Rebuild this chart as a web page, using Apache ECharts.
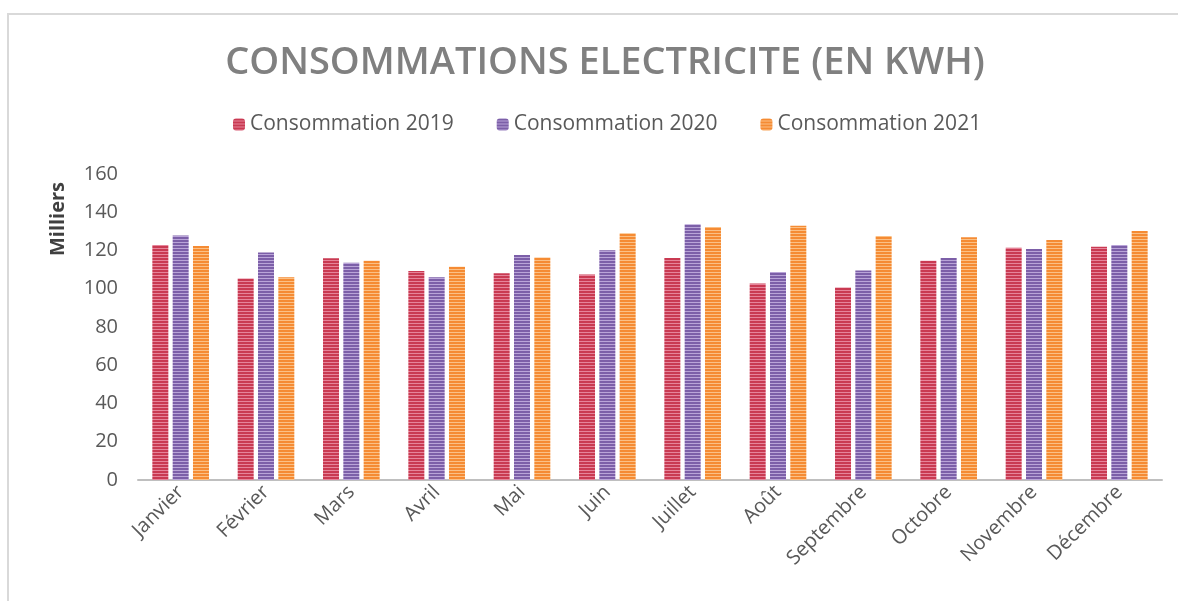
<!DOCTYPE html>
<html>
<head>
<meta charset="utf-8">
<script src="https://cdn.jsdelivr.net/npm/echarts@6/dist/echarts.min.js"></script>
<style>
    body { margin: 0; background: #fff; }
    #chart { position: absolute; left: 0; top: 0; width: 1178px; height: 601px; }
    #frame {
        position: absolute; left: 7px; top: 13px; width: 1171px; height: 588px;
        border-left: 2px solid #d9d9d9; border-top: 2px solid #d9d9d9;
        pointer-events: none;
    }
</style>
</head>
<body>
<div id="chart"></div>
<div id="frame"></div>
<script>
// données (en milliers de kWh)
const mois = ["Janvier", "Février", "Mars", "Avril", "Mai", "Juin", "Juillet", "Août", "Septembre", "Octobre", "Novembre", "Décembre"];
const conso2019 = [122.9, 105.4, 115.9, 109.3, 108.1, 107.4, 116.1, 102.8, 100.7, 114.7, 121.5, 122.0];
const conso2020 = [127.8, 118.9, 113.6, 106.0, 117.6, 120.1, 133.7, 108.8, 109.5, 116.1, 120.8, 122.9];
const conso2021 = [122.4, 106.0, 114.7, 111.5, 116.4, 129.0, 132.3, 133.0, 127.6, 126.9, 125.5, 130.2];
const nomsSeries = ["Consommation 2019", "Consommation 2020", "Consommation 2021"];

// motif rayé façon Excel
function stripes(base, light) {
    const c = document.createElement("canvas");
    c.width = 4;
    c.height = 3;
    const ctx = c.getContext("2d");
    ctx.fillStyle = base;
    ctx.fillRect(0, 0, 4, 3);
    ctx.fillStyle = light;
    ctx.fillRect(0, 2, 4, 1);
    return { image: c, repeat: "repeat" };
}

const couleurs = [
    stripes("#c93a52", "#e6849a"),
    stripes("#7c5fa8", "#b9a4d8"),
    stripes("#f58b33", "#fbc085"),
];

const chart = echarts.init(document.getElementById("chart"));

function serie(i, data) {
    return {
        name: nomsSeries[i],
        type: "bar",
        data: data,
        barWidth: 16,
        barGap: "27%",
        itemStyle: { color: couleurs[i] },
    };
}

const option = {
    animation: false,
    title: {
        text: "CONSOMMATIONS ELECTRICITE (EN KWH)",
        left: 600,
        textAlign: "center",
        top: 39,
        textStyle: {
            fontFamily: "Open Sans",
            fontWeight: 600,
            fontSize: 38,
            color: "#808080",
        },
    },
    legend: {
        data: nomsSeries,
        left: 228,
        top: 109,
        itemWidth: 12,
        itemHeight: 12,
        itemGap: 43,
        textStyle: {
            fontFamily: "Open Sans",
            fontSize: 21,
            color: "#595959",
        },
    },
    grid: { left: 138, right: 16, top: 174, bottom: 121 },
    xAxis: {
        type: "category",
        data: mois,
        axisLine: { lineStyle: { color: "#bfbfbf", width: 2 } },
        axisTick: { show: false },
        axisLabel: {
            rotate: 45,
            margin: 9,
            fontFamily: "Open Sans",
            fontSize: 20,
            color: "#595959",
        },
    },
    yAxis: {
        type: "value",
        min: 0,
        max: 160,
        interval: 20,
        splitLine: { show: false },
        axisLine: { show: false },
        axisLabel: {
            margin: 20,
            fontFamily: "Open Sans",
            fontSize: 20,
            color: "#595959",
        },
    },
    graphic: [
        {
            type: "text",
            x: 58,
            y: 219,
            rotation: Math.PI / 2,
            style: {
                text: "Milliers",
                align: "center",
                verticalAlign: "middle",
                fontFamily: "Open Sans",
                fontWeight: "bold",
                fontSize: 20,
                fill: "#404040",
            },
        },
    ],
    series: [serie(0, conso2019), serie(1, conso2020), serie(2, conso2021)],
};

chart.setOption(option);
</script>
</body>
</html>
